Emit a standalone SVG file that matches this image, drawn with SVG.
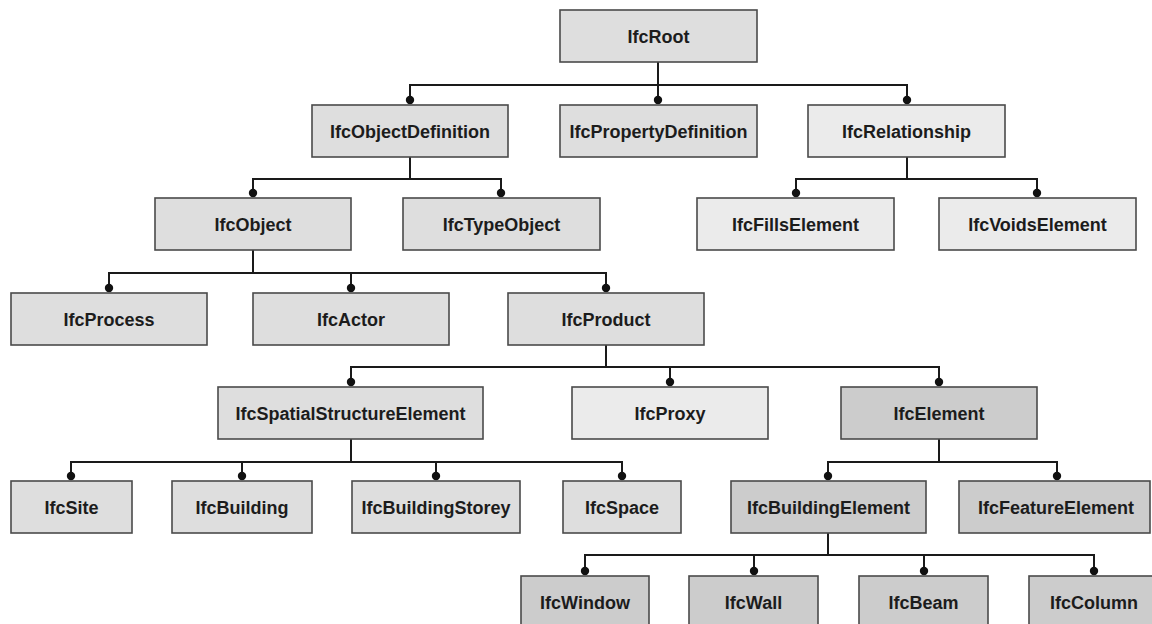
<svg xmlns="http://www.w3.org/2000/svg" width="1152" height="624" viewBox="0 0 1152 624">
  <defs>
    <style>
      .node rect { stroke: #4a4a4a; stroke-width: 1.6; }
      .mid rect { fill: #dedede; }
      .light rect { fill: #ebebeb; }
      .dark rect { fill: #cccccc; }
      .node text { font-family: "Liberation Sans", Arial, sans-serif; font-weight: bold; font-size: 18px; fill: #1c1c1c; text-anchor: middle; }
      .edge { fill: none; stroke: #1a1a1a; stroke-width: 2; marker-end: url(#dot); }
    </style>
    <marker id="dot" markerUnits="userSpaceOnUse" markerWidth="10" markerHeight="10" refX="5" refY="5" orient="auto">
      <circle cx="5" cy="5" r="4.2" fill="#111111"/>
    </marker>
  </defs>
  <rect width="1152" height="624" fill="#ffffff"/>

  <!-- inheritance connectors: parent stem, bus line, dot on child -->
  <g id="connectors">
    <!-- IfcRoot -->
    <path class="edge" d="M658 62 V85 H410 V100"/>
    <path class="edge" d="M658 62 V100"/>
    <path class="edge" d="M658 85 H907 V100"/>
    <!-- IfcObjectDefinition -->
    <path class="edge" d="M410 157 V179 H253 V193"/>
    <path class="edge" d="M410 179 H501 V193"/>
    <!-- IfcRelationship -->
    <path class="edge" d="M907 157 V179 H796 V193"/>
    <path class="edge" d="M907 179 H1037 V193"/>
    <!-- IfcObject -->
    <path class="edge" d="M253 250 V273 H109 V288"/>
    <path class="edge" d="M253 273 H351 V288"/>
    <path class="edge" d="M351 273 H606 V288"/>
    <!-- IfcProduct -->
    <path class="edge" d="M606 345 V367 H351 V382"/>
    <path class="edge" d="M606 367 H670 V382"/>
    <path class="edge" d="M670 367 H939 V382"/>
    <!-- IfcSpatialStructureElement -->
    <path class="edge" d="M351 439 V462 H71 V476"/>
    <path class="edge" d="M351 462 H242 V476"/>
    <path class="edge" d="M351 462 H436 V476"/>
    <path class="edge" d="M436 462 H622 V476"/>
    <!-- IfcElement -->
    <path class="edge" d="M939 439 V462 H828 V476"/>
    <path class="edge" d="M939 462 H1057 V476"/>
    <!-- IfcBuildingElement -->
    <path class="edge" d="M828 533 V555 H585 V571"/>
    <path class="edge" d="M828 555 H754 V571"/>
    <path class="edge" d="M828 555 H924 V571"/>
    <path class="edge" d="M924 555 H1094 V571"/>
  </g>

  <!-- row 0 -->
  <g id="IfcRoot" class="node mid"><rect x="560" y="10" width="197" height="52"/><text x="658.5" y="43">IfcRoot</text></g>

  <!-- row 1 -->
  <g id="IfcObjectDefinition" class="node mid"><rect x="312" y="105" width="196" height="52"/><text x="410" y="138">IfcObjectDefinition</text></g>
  <g id="IfcPropertyDefinition" class="node mid"><rect x="560" y="105" width="197" height="52"/><text x="658.5" y="138">IfcPropertyDefinition</text></g>
  <g id="IfcRelationship" class="node light"><rect x="808" y="105" width="197" height="52"/><text x="906.5" y="138">IfcRelationship</text></g>

  <!-- row 2 -->
  <g id="IfcObject" class="node mid"><rect x="155" y="198" width="196" height="52"/><text x="253" y="231">IfcObject</text></g>
  <g id="IfcTypeObject" class="node mid"><rect x="403" y="198" width="197" height="52"/><text x="501.5" y="231">IfcTypeObject</text></g>
  <g id="IfcFillsElement" class="node light"><rect x="697" y="198" width="197" height="52"/><text x="795.5" y="231">IfcFillsElement</text></g>
  <g id="IfcVoidsElement" class="node light"><rect x="939" y="198" width="197" height="52"/><text x="1037.5" y="231">IfcVoidsElement</text></g>

  <!-- row 3 -->
  <g id="IfcProcess" class="node mid"><rect x="11" y="293" width="196" height="52"/><text x="109" y="326">IfcProcess</text></g>
  <g id="IfcActor" class="node mid"><rect x="253" y="293" width="196" height="52"/><text x="351" y="326">IfcActor</text></g>
  <g id="IfcProduct" class="node mid"><rect x="508" y="293" width="196" height="52"/><text x="606" y="326">IfcProduct</text></g>

  <!-- row 4 -->
  <g id="IfcSpatialStructureElement" class="node mid"><rect x="218" y="387" width="265" height="52"/><text x="350.5" y="420">IfcSpatialStructureElement</text></g>
  <g id="IfcProxy" class="node light"><rect x="572" y="387" width="196" height="52"/><text x="670" y="420">IfcProxy</text></g>
  <g id="IfcElement" class="node dark"><rect x="841" y="387" width="196" height="52"/><text x="939" y="420">IfcElement</text></g>

  <!-- row 5 -->
  <g id="IfcSite" class="node mid"><rect x="11" y="481" width="121" height="52"/><text x="71.5" y="514">IfcSite</text></g>
  <g id="IfcBuilding" class="node mid"><rect x="172" y="481" width="140" height="52"/><text x="242" y="514">IfcBuilding</text></g>
  <g id="IfcBuildingStorey" class="node mid"><rect x="352" y="481" width="168" height="52"/><text x="436" y="514">IfcBuildingStorey</text></g>
  <g id="IfcSpace" class="node mid"><rect x="563" y="481" width="118" height="52"/><text x="622" y="514">IfcSpace</text></g>
  <g id="IfcBuildingElement" class="node dark"><rect x="731" y="481" width="195" height="52"/><text x="828.5" y="514">IfcBuildingElement</text></g>
  <g id="IfcFeatureElement" class="node dark"><rect x="959" y="481" width="191" height="52"/><text x="1056" y="514">IfcFeatureElement</text></g>

  <!-- row 6 -->
  <g id="IfcWindow" class="node dark"><rect x="521" y="576" width="128" height="52"/><text x="585" y="609">IfcWindow</text></g>
  <g id="IfcWall" class="node dark"><rect x="689" y="576" width="129" height="52"/><text x="753.5" y="609">IfcWall</text></g>
  <g id="IfcBeam" class="node dark"><rect x="859" y="576" width="129" height="52"/><text x="923.5" y="609">IfcBeam</text></g>
  <g id="IfcColumn" class="node dark"><rect x="1029" y="576" width="130" height="52"/><text x="1094" y="609">IfcColumn</text></g>
</svg>
